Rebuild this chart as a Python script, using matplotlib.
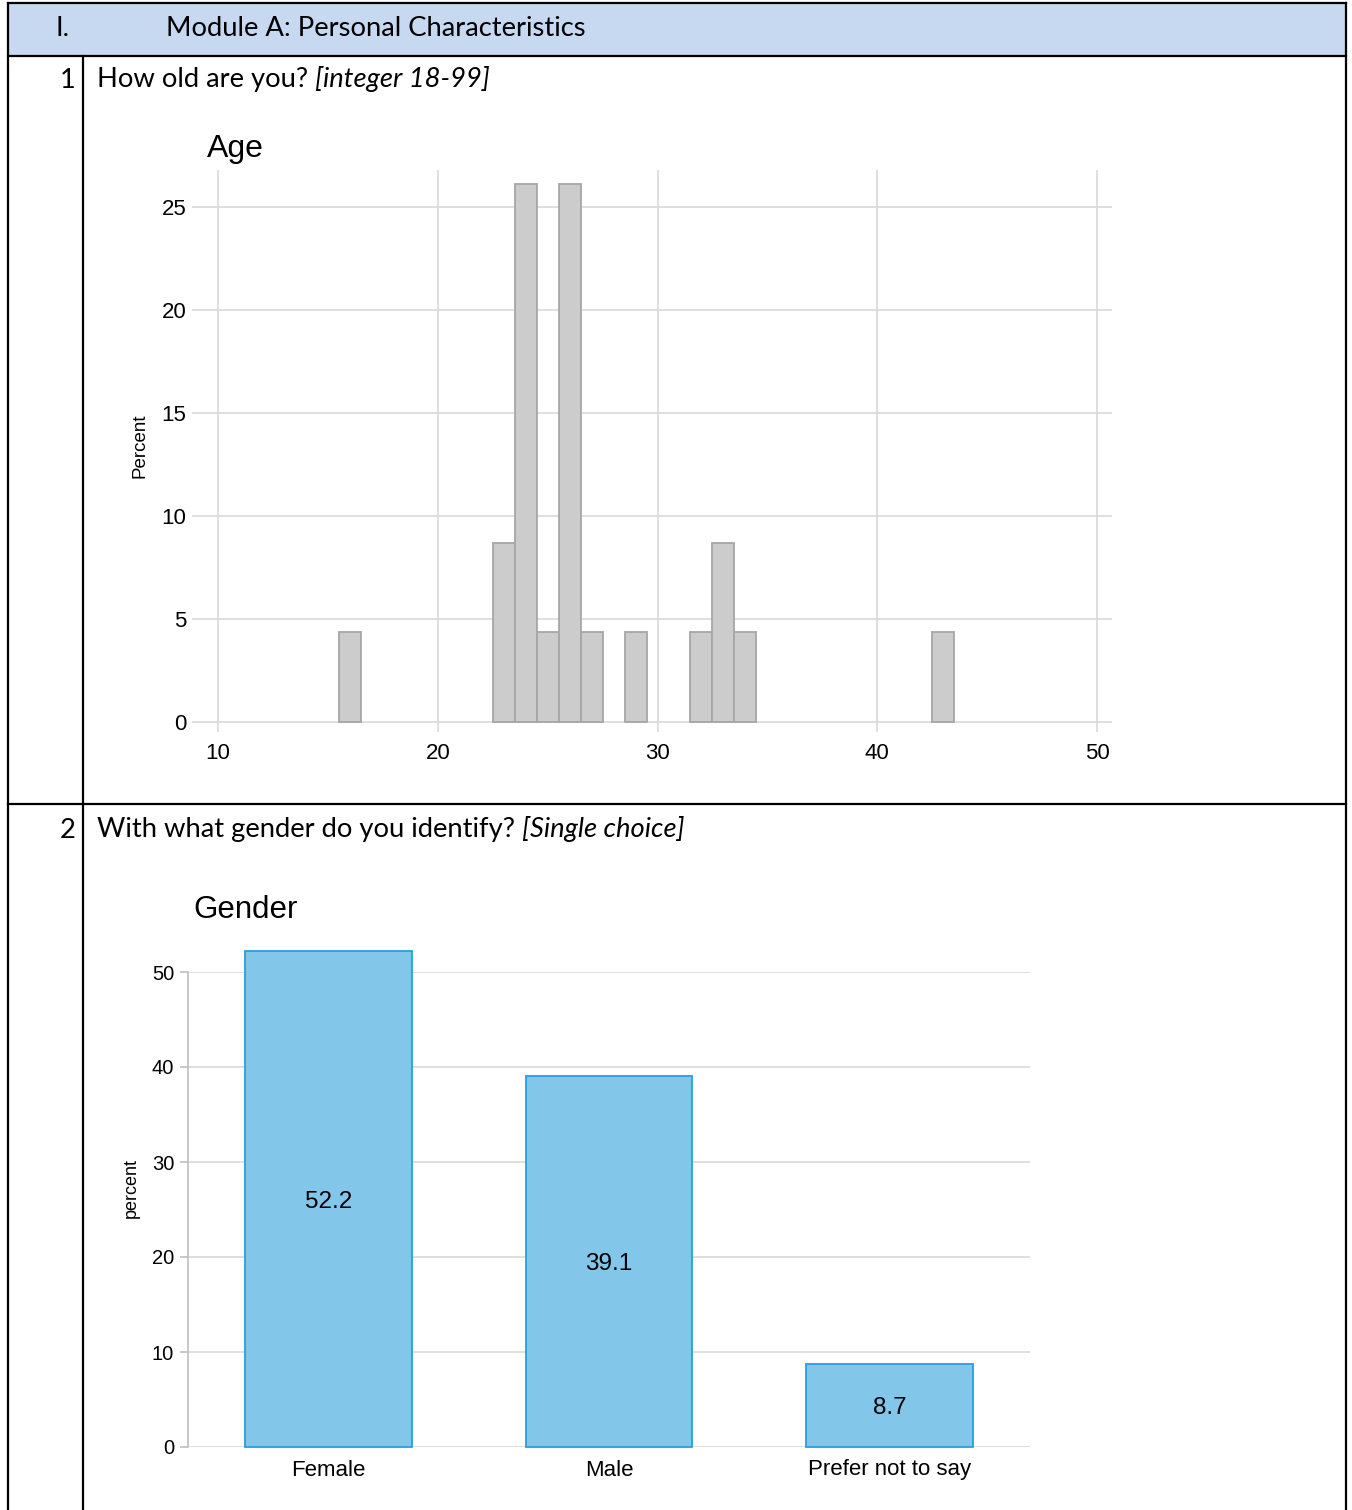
import matplotlib.pyplot as plt
from matplotlib.lines import Line2D
from matplotlib.patches import Rectangle
from matplotlib.text import Annotation

W, H = 1352, 1510

# Age histogram data (percent of respondents)
age_values = [16, 23, 24, 25, 26, 27, 29, 32, 33, 34, 43]
age_percent = [4.35, 8.7, 26.1, 4.35, 26.1, 4.35, 4.35, 4.35, 8.7, 4.35, 4.35]
age_xticks = [10, 20, 30, 40, 50]
age_yticks = [0, 5, 10, 15, 20, 25]

# Gender bar chart data
gender_labels = ['Female', 'Male', 'Prefer not to say']
gender_percent = [52.2, 39.1, 8.7]
gender_yticks = [0, 10, 20, 30, 40, 50]

DOC_FONT = 'Lato'
CHART_FONT = 'Liberation Sans'
GRID = '#D9D9D9'
DOC_SIZE = 19.7


def fx(px):
    return px / W


def fy(py):
    return 1 - py / H


def px_axes(fig, left, top, right, bottom):
    return fig.add_axes([fx(left), fy(bottom), (right - left) / W, (bottom - top) / H])


def hline(fig, x0, x1, y, lw=1.6, color='black'):
    fig.add_artist(Line2D([fx(x0), fx(x1)], [fy(y), fy(y)], color=color, lw=lw))


def vline(fig, x, y0, y1, lw=1.6, color='black'):
    fig.add_artist(Line2D([fx(x), fx(x)], [fy(y0), fy(y1)], color=color, lw=lw))


def question(fig, x, y, plain, italic, size=DOC_SIZE):
    t1 = fig.text(fx(x), fy(y), plain, family=DOC_FONT, fontsize=size, va='center', ha='left')
    t2 = Annotation(italic, xy=(1, 0), xycoords=t1, va='bottom', ha='left',
                    family=DOC_FONT, fontsize=size, style='italic')
    fig.add_artist(t2)


fig = plt.figure(figsize=(W / 100, H / 100), dpi=100)

# --- table frame ---
fig.add_artist(Rectangle((fx(8), fy(56)), (1346 - 8) / W, (56 - 3) / H,
                         facecolor='#C6D9F1', edgecolor='none'))
hline(fig, 8, 1346, 3)
hline(fig, 8, 1346, 56)
hline(fig, 8, 1346, 804)
vline(fig, 8, 3, H)
vline(fig, 1346, 3, H)
vline(fig, 83, 56, H)

fig.text(fx(62), fy(28), 'I.', family=DOC_FONT, fontsize=DOC_SIZE, va='center', ha='center')
fig.text(fx(166), fy(28), 'Module A: Personal Characteristics', family=DOC_FONT,
         fontsize=DOC_SIZE, va='center', ha='left')
fig.text(fx(76), fy(80), '1', family=DOC_FONT, fontsize=DOC_SIZE, va='center', ha='right')
question(fig, 97, 80, 'How old are you? ', '[integer 18-99]')
fig.text(fx(76), fy(830), '2', family=DOC_FONT, fontsize=DOC_SIZE, va='center', ha='right')
question(fig, 97, 830, 'With what gender do you identify? ', '[Single choice]')

# --- Age histogram ---
ax1 = px_axes(fig, 192, 170, 1112, 732)
ax1.bar(age_values, age_percent, width=1, color='#CCCCCC', edgecolor='#A6A6A6',
        linewidth=1.3, zorder=3)
ax1.set_xlim(8.817, 50.68)
ax1.set_ylim(-0.485, 26.8)
ax1.set_xticks(age_xticks)
ax1.set_yticks(age_yticks)
ax1.grid(True, color=GRID, linewidth=1.2, zorder=0)
ax1.set_axisbelow(True)
for s in ax1.spines.values():
    s.set_visible(False)
ax1.tick_params(length=0, labelsize=16, pad=4)
ax1.tick_params(axis='x', pad=8)
for lab in ax1.get_xticklabels() + ax1.get_yticklabels():
    lab.set_family(CHART_FONT)
fig.text(fx(207), fy(149), 'Age', family=CHART_FONT, fontsize=23, va='center', ha='left')
fig.text(fx(140), fy(446), 'Percent', family=CHART_FONT, fontsize=13.5,
         rotation=90, va='center', ha='center')

# --- Gender bar chart ---
ax2 = px_axes(fig, 188, 972, 1030, 1447)
x = list(range(len(gender_labels)))
bars = ax2.bar(x, gender_percent, width=0.595, color='#82C6E9', edgecolor='#2A9FDB',
               linewidth=1.3, zorder=3, clip_on=False)
for b, v in zip(bars, gender_percent):
    ax2.text(b.get_x() + b.get_width() / 2, v / 2, f'{v:.1f}', ha='center',
             va='center_baseline', family=CHART_FONT, fontsize=17.5, zorder=4)
ax2.set_xlim(-0.5, 2.5)
ax2.set_ylim(0, 50)
ax2.set_yticks(gender_yticks)
ax2.set_xticks(x)
ax2.set_xticklabels(gender_labels)
ax2.yaxis.grid(True, color=GRID, linewidth=1.2, zorder=0)
ax2.set_axisbelow(True)
for name in ['top', 'right', 'bottom']:
    ax2.spines[name].set_visible(False)
ax2.spines['left'].set_color('#BFBFBF')
ax2.spines['left'].set_linewidth(1.2)
ax2.tick_params(axis='y', length=6, color='#BFBFBF', width=1.2, labelsize=14.5, pad=4)
ax2.tick_params(axis='x', length=0, labelsize=16, pad=9)
for lab in ax2.get_xticklabels() + ax2.get_yticklabels():
    lab.set_family(CHART_FONT)
fig.text(fx(193), fy(910), 'Gender', family=CHART_FONT, fontsize=22.5, va='center', ha='left')
fig.text(fx(131), fy(1188), 'percent', family=CHART_FONT, fontsize=13,
         rotation=90, va='center', ha='center')

fig.savefig('out.png', dpi=100)
